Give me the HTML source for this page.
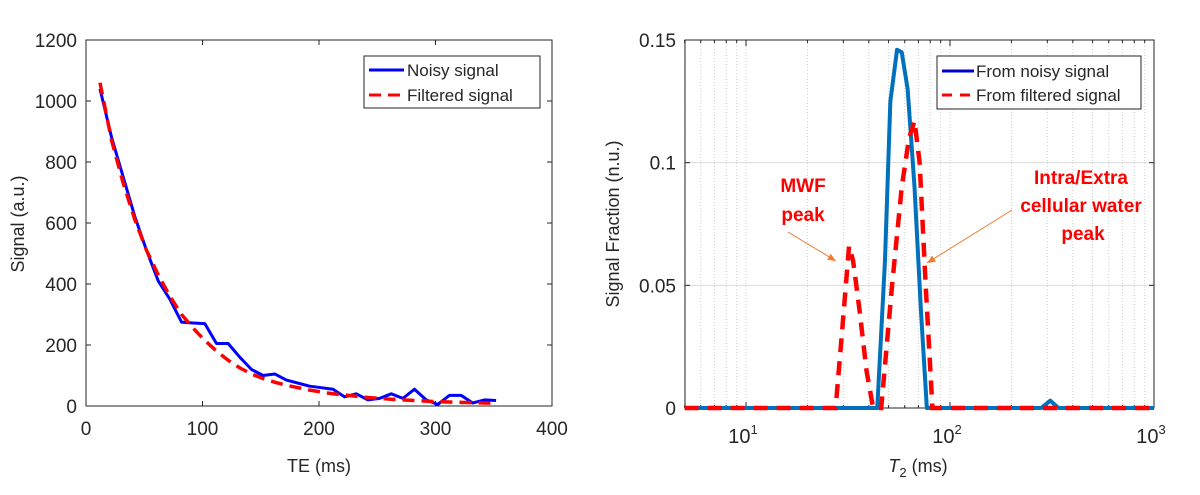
<!DOCTYPE html>
<html><head><meta charset="utf-8"><style>
body{margin:0;background:#fff;}
svg text{font-family:"Liberation Sans",sans-serif;fill:#262626;}
</style></head><body>
<svg id="c" width="1200" height="490" xmlns="http://www.w3.org/2000/svg"></svg>
<script>
// Left chart data
const teValues=[12,22,32,42,52,62,72,82,92,102,112,122,132,142,152,162,172,182,192,202,212,222,232,242,252,262,272,282,292,302,312,322,332,342,352];
const noisySignal=[1040,880,750,620,510,410,350,275,272,270,205,205,160,120,100,105,85,75,65,60,55,30,40,20,25,40,25,55,20,5,35,35,10,20,18];
const filteredSignal=[1060,870,730,610,510,430,360,300,255,215,180,150,125,105,90,78,68,60,52,46,40,36,32,28,25,22,20,18,16,14,13,12,11,10,9];
const leftXTicks=[0,100,200,300,400];
const leftYTicks=[0,200,400,600,800,1000,1200];
// Right chart data
const t2Noisy=[5,44,48,51,55,58,62,67,72,77,280,310,340,1000];
const fracNoisy=[0,0,0.06,0.125,0.146,0.145,0.13,0.09,0.04,0,0,0.003,0,0];
const t2Filtered=[5,27.5,29.5,32,33.5,36,39,42,46,52,58,63,67,71,76,82,1000];
const fracFiltered=[0,0,0.03,0.066,0.06,0.04,0.015,0,0,0.05,0.09,0.11,0.117,0.1,0.05,0,0];
const rightYTicks=[0,0.05,0.1,0.15];
const rightYLabels=["0","0.05","0.1","0.15"];
const rightXDecades=[1,2,3];

const svg=document.getElementById('c');
const NS="http://www.w3.org/2000/svg";
function el(tag,attrs,parent){const e=document.createElementNS(NS,tag);for(const k in attrs)e.setAttribute(k,attrs[k]);(parent||svg).appendChild(e);return e;}
function txt(s,attrs){const t=el('text',attrs);t.textContent=s;return t;}

// Left axes
const L={x0:86,x1:552,y0:406,y1:40};
const lx=v=>L.x0+(v-0)/400*(L.x1-L.x0);
const ly=v=>L.y0-(v/1200)*(L.y0-L.y1);
let r=el('rect',{x:L.x0,y:L.y1,width:L.x1-L.x0,height:L.y0-L.y1,fill:'#fff',stroke:'#262626','stroke-width':1});


leftXTicks.forEach(v=>{
  el('line',{x1:lx(v),x2:lx(v),y1:L.y0,y2:L.y0-5,stroke:'#262626'});
  el('line',{x1:lx(v),x2:lx(v),y1:L.y1,y2:L.y1+5,stroke:'#262626'});
  const t=txt(String(v),{x:lx(v),y:L.y0+29,'font-size':19,'text-anchor':'middle'});
  
  
});
leftYTicks.forEach(v=>{
  el('line',{x1:L.x0,x2:L.x0+5,y1:ly(v),y2:ly(v),stroke:'#262626'});
  el('line',{x1:L.x1,x2:L.x1-5,y1:ly(v),y2:ly(v),stroke:'#262626'});
  const t=txt(String(v),{x:L.x0-9,y:ly(v)+7,'font-size':19,'text-anchor':'end'});
  
  
});
let p=el('polyline',{points:teValues.map((t,i)=>lx(t)+','+ly(noisySignal[i])).join(' '),fill:'none',stroke:'#0000ff','stroke-width':3,'stroke-linejoin':'round'});


p=el('polyline',{points:teValues.map((t,i)=>lx(t)+','+ly(filteredSignal[i])).join(' '),fill:'none',stroke:'#ff0000','stroke-width':3.5,'stroke-dasharray':'12 7'});


let t=txt('TE (ms)',{x:(L.x0+L.x1)/2,y:472,'font-size':18,'text-anchor':'middle'});

t=txt('Signal (a.u.)',{x:0,y:0,'font-size':18,'text-anchor':'middle',transform:'translate(24,224) rotate(-90)'});

// left legend
let g=el('g',{});
el('rect',{x:364,y:56,width:176,height:52,fill:'#fff',stroke:'#262626'},g);
el('line',{x1:369,x2:404,y1:70,y2:70,stroke:'#0000ff','stroke-width':3},g);
el('line',{x1:369,x2:404,y1:95,y2:95,stroke:'#ff0000','stroke-width':3,'stroke-dasharray':'12 7'},g);
let lt=el('text',{x:407,y:76,'font-size':17},g);lt.textContent='Noisy signal';
lt=el('text',{x:407,y:101,'font-size':17},g);lt.textContent='Filtered signal';

// Right axes
const R={x0:685,x1:1154,y0:408,y1:40};
const rx=v=>R.x1-(3-Math.log10(v))*204;
const ry=v=>R.y0-(v/0.15)*(R.y0-R.y1);
r=el('rect',{x:R.x0,y:R.y1,width:R.x1-R.x0,height:R.y0-R.y1,fill:'#fff',stroke:'none'});


for(let d=0;d<3;d++){for(let m=1;m<10;m++){const v=m*Math.pow(10,d);if(v<5)continue;const x=rx(v);
  el('line',{x1:x,x2:x,y1:R.y1,y2:R.y0,stroke:'#d0d0d0','stroke-width':1,'stroke-dasharray':'1 2'});
  el('line',{x1:x,x2:x,y1:R.y0,y2:R.y0-(m===1?6:3),stroke:'#262626'});
  el('line',{x1:x,x2:x,y1:R.y1,y2:R.y1+(m===1?6:3),stroke:'#262626'});}}
rightYTicks.forEach((v,i)=>{
  if(v>0&&v<0.15)el('line',{x1:R.x0,x2:R.x1,y1:ry(v),y2:ry(v),stroke:'#dcdcdc'});
  el('line',{x1:R.x0,x2:R.x0+5,y1:ry(v),y2:ry(v),stroke:'#262626'});
  el('line',{x1:R.x1,x2:R.x1-5,y1:ry(v),y2:ry(v),stroke:'#262626'});
  const tt=txt(rightYLabels[i],{x:R.x0-9,y:ry(v)+7,'font-size':19,'text-anchor':'end'});
  
});
el('rect',{x:R.x0,y:R.y1,width:R.x1-R.x0,height:R.y0-R.y1,fill:'none',stroke:'#262626'});
rightXDecades.forEach(d=>{
  const tt=el('text',{x:rx(Math.pow(10,d))-3,y:R.y0+35,'font-size':20,'text-anchor':'middle'});
  tt.innerHTML='10<tspan dy="-9" font-size="13">'+d+'</tspan>';
  
});
p=el('polyline',{points:t2Noisy.map((v,i)=>rx(v)+','+ry(fracNoisy[i])).join(' '),fill:'none',stroke:'#0072bd','stroke-width':4,'stroke-linejoin':'round'});

p=el('polyline',{points:t2Filtered.map((v,i)=>rx(v)+','+ry(fracFiltered[i])).join(' '),fill:'none',stroke:'#ff0000','stroke-width':4.5,'stroke-dasharray':'14 9'});

t=el('text',{x:918,y:472,'font-size':18,'text-anchor':'middle'});
t.innerHTML='<tspan font-style="italic">T</tspan><tspan font-size="13" dy="5">2</tspan><tspan dy="-5"> (ms)</tspan>';

t=txt('Signal Fraction (n.u.)',{x:0,y:0,'font-size':18,'text-anchor':'middle',transform:'translate(619,224) rotate(-90)'});

// right legend
g=el('g',{});
el('rect',{x:937,y:56,width:204,height:53,fill:'#fff',stroke:'#262626'},g);
el('line',{x1:942,x2:974,y1:71,y2:71,stroke:'#0000cc','stroke-width':3},g);
el('line',{x1:942,x2:974,y1:95,y2:95,stroke:'#ff0000','stroke-width':3,'stroke-dasharray':'10 8'},g);
lt=el('text',{x:976,y:77,'font-size':17},g);lt.textContent='From noisy signal';
lt=el('text',{x:976,y:101,'font-size':17},g);lt.textContent='From filtered signal';
// annotations
const ann=[['MWF',803,192],['peak',803,221],['Intra/Extra',1081,184],['cellular water',1081,212],['peak',1083,240]];
ann.forEach(a=>{const tt=txt(a[0],{x:a[1],y:a[2],'font-size':19,'font-weight':'bold','text-anchor':'middle'});tt.style.fill='#ff0000';
  });
function arrow(x1,y1,x2,y2){const a=Math.atan2(y2-y1,x2-x1);
  el('line',{x1,y1,x2,y2,stroke:'#ed7d31','stroke-width':1});
  el('polygon',{points:`${x2},${y2} ${x2-9*Math.cos(a-0.4)},${y2-9*Math.sin(a-0.4)} ${x2-9*Math.cos(a+0.4)},${y2-9*Math.sin(a+0.4)}`,fill:'#ed7d31'});}
arrow(788,232,836,261);
arrow(1012,210,927,263);
</script>
</body></html>
